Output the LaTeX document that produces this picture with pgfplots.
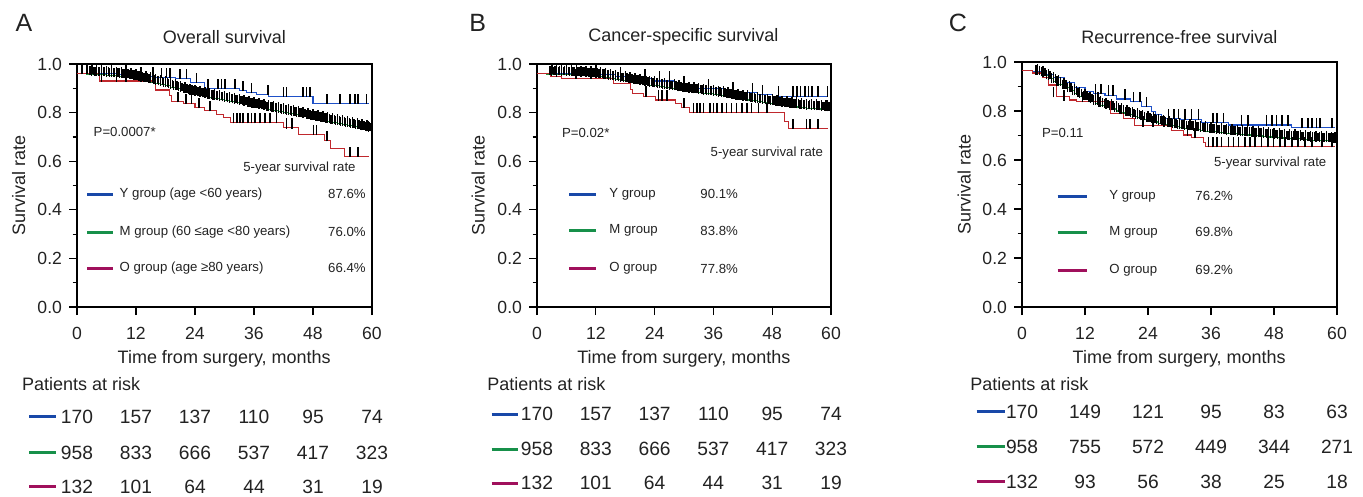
\documentclass[border=0pt]{standalone}
\usepackage{fontspec}
\setmainfont{Liberation Sans}
\usepackage{pgfplots}
\usepackage{pgfplotstable}
\pgfplotsset{compat=1.18}

\definecolor{cblue}{HTML}{1E50C8}
\definecolor{cgreen}{HTML}{1A9A3C}
\definecolor{cred}{HTML}{C0282D}
\definecolor{lblue}{HTML}{1848A8}
\definecolor{lgreen}{HTML}{17904A}
\definecolor{lmag}{HTML}{A0105C}
\definecolor{textc}{HTML}{222222}

\newcommand\fTick{\fontsize{8.8pt}{10pt}\selectfont}
\newcommand\fTitle{\fontsize{9pt}{10pt}\selectfont}
\newcommand\fLab{\fontsize{9pt}{10pt}\selectfont}
\newcommand\fRisk{\fontsize{9.6pt}{11pt}\selectfont}
\newcommand\fLeg{\fontsize{6.6pt}{8pt}\selectfont}
\newcommand\fLet{\fontsize{12.5pt}{14pt}\selectfont}

% censoring tick standing on the curve
\pgfdeclareplotmark{up}{%
  \pgfpathmoveto{\pgfqpoint{0pt}{-0.3pt}}%
  \pgfpathlineto{\pgfqpoint{0pt}{2\pgfplotmarksize}}%
  \pgfusepathqstroke}
% three close ticks, used for the dense M group
\pgfdeclareplotmark{up3}{%
  \pgfpathmoveto{\pgfqpoint{-0.9pt}{-0.5pt}}%
  \pgfpathlineto{\pgfqpoint{-0.9pt}{1.7\pgfplotmarksize}}%
  \pgfpathmoveto{\pgfqpoint{0pt}{-0.7pt}}%
  \pgfpathlineto{\pgfqpoint{0pt}{2\pgfplotmarksize}}%
  \pgfpathmoveto{\pgfqpoint{0.9pt}{-0.5pt}}%
  \pgfpathlineto{\pgfqpoint{0.9pt}{1.6\pgfplotmarksize}}%
  \pgfusepathqstroke}

\tikzset{legline/.style={line width=1.5pt}}

\pgfplotsset{
  km/.style={
    scale only axis, anchor=south west,
    xmin=0, xmax=60, ymin=0, ymax=1,
    xtick={0,12,24,36,48,60},
    ytick={0,0.2,0.4,0.6,0.8,1.0},
    minor ytick={0.1,0.3,0.5,0.7,0.9},
    tick align=outside, xtick pos=left, ytick pos=left,
    major tick length=4pt, minor tick length=2.2pt,
    tick style={black, line width=0.6pt},
    axis line style={line width=0.6pt, black},
    ticklabel style={font=\fTick, text=textc},
    xticklabel style={yshift=-2.5pt},
    yticklabel style={/pgf/number format/.cd, fixed, fixed zerofill, precision=1},
    /pgf/number format/assume math mode=true,
  },
  step/.style={const plot, line width=0.55pt},
  cens/.style={only marks, black, mark=up, mark size=2.4pt, mark options={line width=0.8pt}},
  mcens/.style={only marks, black, mark=up3, mark size=2.4pt, mark options={line width=0.7pt},
    skip coords between index={0}{3}},
}

% M group curves (months, survival)
\pgfplotstableread{
t s
0 0.960
1 0.960
2 0.958
3 0.957
4 0.956
5 0.955
6 0.954
7 0.952
8 0.950
9 0.948
10 0.946
11 0.943
12 0.940
13 0.936
14 0.931
15 0.926
16 0.921
17 0.916
18 0.910
19 0.904
20 0.898
21 0.892
22 0.886
23 0.880
24 0.876
25 0.871
26 0.867
27 0.862
28 0.858
29 0.854
30 0.850
31 0.846
32 0.842
33 0.838
34 0.834
35 0.829
36 0.825
37 0.821
38 0.817
39 0.812
40 0.808
41 0.804
42 0.800
43 0.796
44 0.792
45 0.788
46 0.784
47 0.779
48 0.775
49 0.771
50 0.767
51 0.763
52 0.758
53 0.754
54 0.750
55 0.746
56 0.742
57 0.737
58 0.733
59 0.729
59.3 0.727
}\osM

\pgfplotstableread{
t s
0 0.960
1 0.960
2 0.959
3 0.958
4 0.958
5 0.957
6 0.957
7 0.956
8 0.955
9 0.954
10 0.953
11 0.951
12 0.950
13 0.947
14 0.944
15 0.940
16 0.937
17 0.933
18 0.930
19 0.927
20 0.923
21 0.920
22 0.917
23 0.913
24 0.910
25 0.907
26 0.903
27 0.900
28 0.897
29 0.893
30 0.890
31 0.888
32 0.885
33 0.883
34 0.880
35 0.878
36 0.875
37 0.872
38 0.868
39 0.865
40 0.862
41 0.858
42 0.855
43 0.852
44 0.848
45 0.845
46 0.842
47 0.838
48 0.835
49 0.833
50 0.830
51 0.828
52 0.825
53 0.823
54 0.820
55 0.818
56 0.817
57 0.815
58 0.813
59 0.812
59.3 0.811
}\cssM

\pgfplotstableread{
t s
0 0.967
1 0.965
2 0.960
3 0.953
4 0.945
5 0.933
6 0.920
7 0.908
8 0.895
9 0.882
10 0.870
11 0.860
12 0.850
13 0.840
14 0.830
15 0.822
16 0.815
17 0.808
18 0.800
19 0.792
20 0.785
21 0.778
22 0.772
23 0.766
24 0.760
25 0.755
26 0.750
27 0.745
28 0.740
29 0.736
30 0.732
31 0.729
32 0.727
33 0.724
34 0.721
35 0.718
36 0.715
37 0.713
38 0.711
39 0.709
40 0.707
41 0.705
42 0.703
43 0.702
44 0.700
45 0.698
46 0.696
47 0.694
48 0.692
49 0.690
50 0.689
51 0.687
52 0.686
53 0.684
54 0.683
55 0.681
56 0.680
57 0.679
58 0.678
59 0.676
59.6 0.675
}\rfsM

\begin{document}
\begin{tikzpicture}
\useasboundingbox (0pt,0pt) rectangle (681.5pt,-248.5pt);

%% ---------------- A: overall survival
\begin{axis}[km, at={(38.5pt,-153.5pt)}, width=147.5pt, height=121.5pt]
\addplot[mcens] table {\osM};
\addplot[step, cgreen] table {\osM};
\addplot[step, cblue] coordinates {(0,0.96)(8,0.955)(12,0.95)(16,0.945)(20,0.94)(23,0.925)(26,0.90)(33,0.89)(34.5,0.882)(36.5,0.875)(39,0.867)(48,0.838)(59.3,0.838)};
\addplot[step, cred] coordinates {(0,0.96)(4.5,0.93)(15.9,0.893)(18.9,0.872)(19.2,0.845)(21.6,0.838)(24,0.82)(26,0.807)(28.4,0.794)(29.8,0.78)(31.3,0.758)(42,0.737)(45,0.71)(50.4,0.684)(51.5,0.652)(54.5,0.62)(59.3,0.62)};
\addplot[cens] coordinates {(1,0.96)(3,0.96)(5,0.96)(7,0.96)(10,0.955)(13,0.95)(15.5,0.95)(17.2,0.945)(18.2,0.945)(18.9,0.945)(20.9,0.94)(22.3,0.94)(24.3,0.925)(26.7,0.90)(28.7,0.90)(29.4,0.90)(30.1,0.90)(32.1,0.90)(33.8,0.89)(35.5,0.882)(38.9,0.875)(42,0.867)(42.6,0.867)(46,0.867)(46.7,0.867)(47.4,0.867)(50.8,0.838)(53.5,0.838)(55.5,0.838)(56.5,0.838)(57.2,0.838)(58.9,0.838)};
\addplot[cens] coordinates {(2,0.96)(5,0.93)(8,0.93)(10,0.93)(13,0.93)(20.5,0.845)(22.2,0.838)(23.3,0.838)(24.8,0.82)(27,0.807)(31.8,0.758)(32.5,0.758)(33.2,0.758)(33.8,0.758)(34.8,0.758)(35.5,0.758)(36.2,0.758)(37.2,0.758)(38.2,0.758)(39.2,0.758)(40.6,0.758)(42.6,0.737)(43.7,0.737)(48.1,0.71)(48.7,0.71)(50.8,0.684)(55.5,0.62)(57.2,0.62)};
\end{axis}

%% ---------------- B: cancer-specific survival
\begin{axis}[km, at={(268.5pt,-153.5pt)}, width=147pt, height=121.5pt]
\addplot[mcens] table {\cssM};
\addplot[step, cgreen] table {\cssM};
\addplot[step, cblue] coordinates {(0,0.96)(10,0.955)(16,0.95)(20,0.94)(24,0.93)(28,0.91)(33,0.90)(38,0.888)(42,0.882)(45,0.876)(48.1,0.868)(59.3,0.868)};
\addplot[step, cred] coordinates {(0,0.96)(2.7,0.95)(5,0.941)(15.6,0.918)(19,0.896)(19.5,0.879)(21.7,0.868)(24.1,0.852)(28.2,0.838)(29.5,0.822)(31.2,0.80)(50.6,0.763)(51.4,0.735)(59.3,0.735)};
\addplot[cens] coordinates {(3,0.96)(6,0.96)(12,0.955)(17,0.95)(22,0.94)(25,0.93)(27,0.93)(30,0.91)(35,0.90)(40,0.888)(44,0.882)(46,0.876)(49.3,0.868)(52.3,0.868)(53,0.868)(53.8,0.868)(54.7,0.868)(55.4,0.868)(56.1,0.868)(57.4,0.868)(59.3,0.868)};
\addplot[cens] coordinates {(4,0.95)(8,0.941)(11,0.941)(14,0.941)(22.3,0.868)(24.8,0.852)(25.5,0.852)(26.5,0.852)(30,0.822)(31.9,0.80)(32.6,0.80)(33.3,0.80)(34,0.80)(35.3,0.80)(36,0.80)(36.7,0.80)(37.7,0.80)(38.7,0.80)(39.7,0.80)(40.7,0.80)(41.8,0.80)(42.8,0.80)(43.8,0.80)(45.2,0.80)(46.9,0.80)(52.3,0.735)(55,0.735)(55.7,0.735)(57.4,0.735)};
\end{axis}

%% ---------------- C: recurrence-free survival
\begin{axis}[km, at={(511pt,-153.5pt)}, width=157.5pt, height=122.5pt]
\addplot[mcens] table {\rfsM};
\addplot[step, cgreen] table {\rfsM};
\addplot[step, cblue] coordinates {(0,0.967)(2,0.96)(4,0.95)(6,0.935)(8,0.915)(10,0.895)(12,0.88)(13.6,0.872)(15.8,0.865)(18,0.849)(20.6,0.838)(22.8,0.818)(24.7,0.797)(25.5,0.784)(26.5,0.77)(30.1,0.767)(34.2,0.752)(39.3,0.743)(51.4,0.732)(59.6,0.732)};
\addplot[step, cred] coordinates {(0,0.967)(2,0.955)(4,0.935)(5,0.906)(6.6,0.858)(9,0.845)(10.4,0.838)(16.8,0.79)(19.3,0.77)(21.5,0.739)(28.5,0.722)(30.7,0.702)(32.3,0.691)(34.5,0.671)(35,0.654)(59.6,0.654)};
\addplot[cens] coordinates {(14,0.872)(15,0.872)(16.5,0.865)(17.3,0.865)(19.6,0.849)(21.2,0.838)(22.5,0.838)(23.7,0.818)(27.9,0.77)(28.9,0.77)(29.8,0.77)(31,0.767)(32.3,0.767)(33.6,0.767)(36.4,0.752)(37.1,0.752)(38.4,0.752)(41.8,0.743)(43.1,0.743)(46.6,0.743)(47.6,0.743)(48.5,0.743)(49.5,0.743)(50.7,0.743)(53.3,0.732)(54.5,0.732)(55.2,0.732)(56.1,0.732)(56.8,0.732)(59,0.732)};
\addplot[cens] coordinates {(6,0.858)(8,0.845)(11.5,0.838)(13,0.838)(14.5,0.838)(23,0.739)(25,0.739)(27,0.739)(31.5,0.702)(33,0.691)(35.5,0.654)(36.4,0.654)(37.1,0.654)(38,0.654)(39.3,0.654)(40.3,0.654)(41.2,0.654)(42.5,0.654)(43.4,0.654)(44.4,0.654)(45.6,0.654)(46.9,0.654)(47.9,0.654)(49.1,0.654)(50.1,0.654)(51.4,0.654)(52.6,0.654)(53.9,0.654)(55.2,0.654)(57.1,0.654)(59,0.654)};
\end{axis}

%% ---------------- texts, legends and risk tables (pixel units)
\begin{scope}[x=0.5pt, y=-0.5pt, every node/.style={inner sep=0pt, text=textc}]
% panel letters and titles
\node[font=\fLet] at (24,22.7) {A};
\node[font=\fLet] at (477.8,22.7) {B};
\node[font=\fLet] at (957.8,22.7) {C};
\node[font=\fTitle] at (224.3,36.7) {Overall survival};
\node[font=\fTitle] at (683.3,36.7) {Cancer-specific survival};
\node[font=\fTitle] at (1179.3,36.7) {Recurrence-free survival};
% axis labels
\node[font=\fLab, rotate=90] at (18.8,185.8) {Survival rate};
\node[font=\fLab, rotate=90] at (478.3,185.5) {Survival rate};
\node[font=\fLab, rotate=90] at (964.2,184.2) {Survival rate};
\node[font=\fLab] at (224.2,359.3) {Time from surgery, months};
\node[font=\fLab] at (683.8,359) {Time from surgery, months};
\node[font=\fLab] at (1179.2,359) {Time from surgery, months};

% legend A
\node[font=\fLeg, anchor=west] at (93.3,132.3) {P=0.0007*};
\node[font=\fLeg, anchor=east] at (356,168.3) {5-year survival rate};
\draw[lblue, legline] (87.3,194.5) -- (113.3,194.5);
\draw[lgreen, legline] (87.3,232.5) -- (113.3,232.5);
\draw[lmag, legline] (87.3,268.5) -- (113.3,268.5);
\node[font=\fLeg, anchor=west] at (119.3,194.3) {Y group (age <60 years)};
\node[font=\fLeg, anchor=west] at (119.3,232.3) {M group (60 ≤age <80 years)};
\node[font=\fLeg, anchor=west] at (119.3,268.3) {O group (age ≥80 years)};
\node[font=\fLeg, anchor=east] at (366,194.3) {87.6\%};
\node[font=\fLeg, anchor=east] at (366,232.3) {76.0\%};
\node[font=\fLeg, anchor=east] at (366,268.3) {66.4\%};

% legend B
\node[font=\fLeg, anchor=west] at (561.7,132.7) {P=0.02*};
\node[font=\fLeg, anchor=east] at (823.3,153.3) {5-year survival rate};
\draw[lblue, legline] (569.3,194.5) -- (596,194.5);
\draw[lgreen, legline] (569.3,230.5) -- (596,230.5);
\draw[lmag, legline] (569.3,268.5) -- (596,268.5);
\node[font=\fLeg, anchor=west] at (609,194.3) {Y group};
\node[font=\fLeg, anchor=west] at (609,230.7) {M group};
\node[font=\fLeg, anchor=west] at (609,268.7) {O group};
\node[font=\fLeg, anchor=west] at (700,194.3) {90.1\%};
\node[font=\fLeg, anchor=west] at (700,230.7) {83.8\%};
\node[font=\fLeg, anchor=west] at (700,268.7) {77.8\%};

% legend C
\node[font=\fLeg, anchor=west] at (1041.7,132.7) {P=0.11};
\node[font=\fLeg, anchor=east] at (1326.7,163.3) {5-year survival rate};
\draw[lblue, legline] (1057.7,196.5) -- (1087,196.5);
\draw[lgreen, legline] (1057.7,232.5) -- (1087,232.5);
\draw[lmag, legline] (1057.7,270.5) -- (1087,270.5);
\node[font=\fLeg, anchor=west] at (1109,196) {Y group};
\node[font=\fLeg, anchor=west] at (1109,232.3) {M group};
\node[font=\fLeg, anchor=west] at (1109,270) {O group};
\node[font=\fLeg, anchor=west] at (1195,196) {76.2\%};
\node[font=\fLeg, anchor=west] at (1195,232.3) {69.8\%};
\node[font=\fLeg, anchor=west] at (1195,270) {69.2\%};

% patients at risk
\node[font=\fLab, anchor=west] at (21.7,384) {Patients at risk};
\node[font=\fLab, anchor=west] at (487,384) {Patients at risk};
\node[font=\fLab, anchor=west] at (970,384) {Patients at risk};

\draw[lblue, legline] (29,416.5) -- (56,416.5);
\draw[lgreen, legline] (29,452.5) -- (56,452.5);
\draw[lmag, legline] (29,486.5) -- (56,486.5);
\foreach \v [count=\i from 0] in {170,157,137,110,95,74} \node[font=\fRisk] at ({77+59*\i},416.7) {\v};
\foreach \v [count=\i from 0] in {958,833,666,537,417,323} \node[font=\fRisk] at ({77+59*\i},452.7) {\v};
\foreach \v [count=\i from 0] in {132,101,64,44,31,19} \node[font=\fRisk] at ({77+59*\i},487) {\v};

\draw[lblue, legline] (491.7,414.5) -- (518,414.5);
\draw[lgreen, legline] (491.7,449.5) -- (518,449.5);
\draw[lmag, legline] (491.7,483.5) -- (518,483.5);
\foreach \v [count=\i from 0] in {170,157,137,110,95,74} \node[font=\fRisk] at ({537+58.8*\i},414.3) {\v};
\foreach \v [count=\i from 0] in {958,833,666,537,417,323} \node[font=\fRisk] at ({537+58.8*\i},449.3) {\v};
\foreach \v [count=\i from 0] in {132,101,64,44,31,19} \node[font=\fRisk] at ({537+58.8*\i},483.3) {\v};

\draw[lblue, legline] (976.7,411.5) -- (1005,411.5);
\draw[lgreen, legline] (976.7,446.5) -- (1005,446.5);
\draw[lmag, legline] (976.7,481.5) -- (1005,481.5);
\foreach \v [count=\i from 0] in {170,149,121,95,83,63} \node[font=\fRisk] at ({1022+63*\i},411.7) {\v};
\foreach \v [count=\i from 0] in {958,755,572,449,344,271} \node[font=\fRisk] at ({1022+63*\i},446.7) {\v};
\foreach \v [count=\i from 0] in {132,93,56,38,25,18} \node[font=\fRisk] at ({1022+63*\i},481.7) {\v};
\end{scope}
\end{tikzpicture}
\end{document}
